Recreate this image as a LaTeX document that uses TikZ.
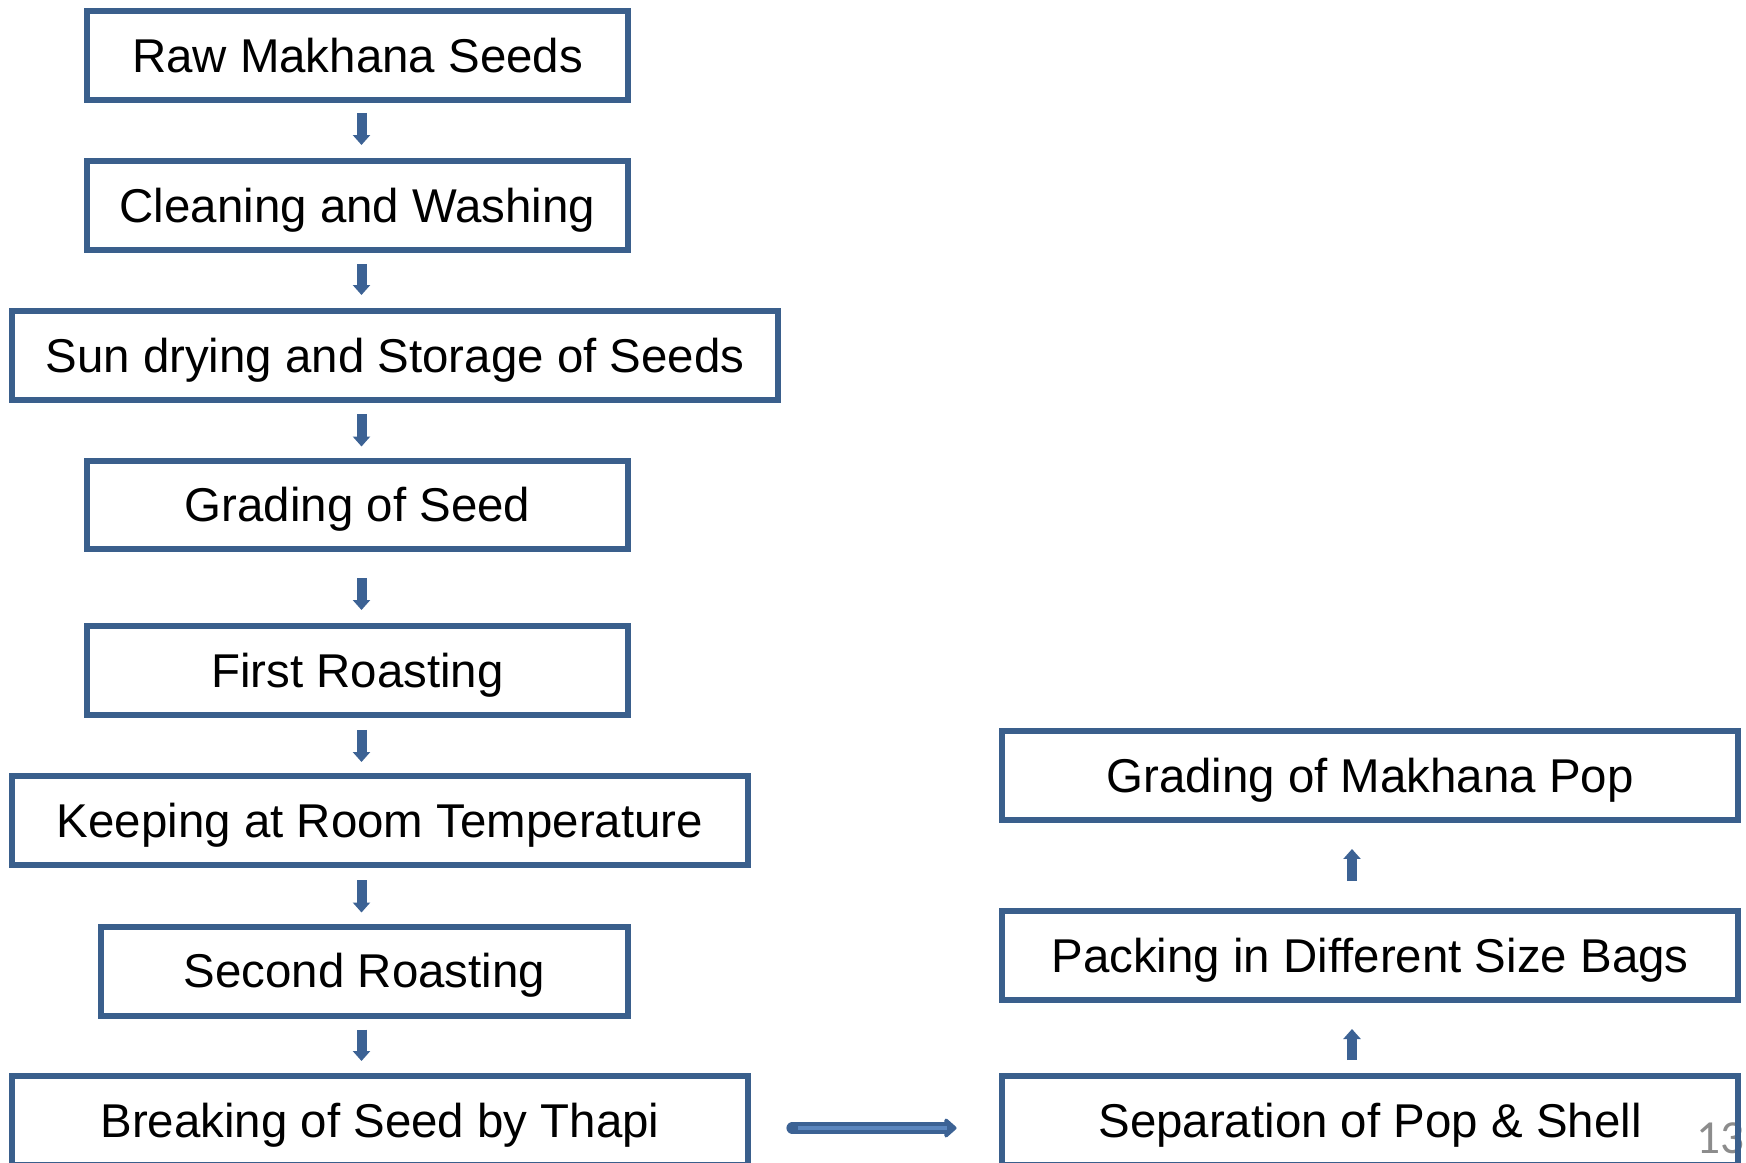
\documentclass[tikz,border=0pt]{standalone}
\usepackage{fontspec}
\setmainfont{Liberation Sans}
\newfontfamily\pagenumfont{Carlito}
\usetikzlibrary{arrows.meta,calc}
\definecolor{boxline}{HTML}{3A5F8C}
\definecolor{arrowdark}{HTML}{3C6294}
\definecolor{arrowlight}{HTML}{5B86BE}
\definecolor{pagegrey}{HTML}{8C8C8C}

\begin{document}
\begin{tikzpicture}[x=0.02cm,y=-0.02cm,
        stepbox/.style={draw=boxline,line width=0.12cm,minimum height=1.78cm,
            inner sep=0pt,text height=19.3pt,text depth=0pt,
            font=\fontsize{27}{32}\selectfont},
        downarr/.style={arrowdark,line width=0.2cm,
            -{Triangle[width=0.34cm,length=0.2cm]}},
        sidearr/.style={arrowdark,line width=0.24cm,line cap=round,
            -{Triangle[width=0.44cm,length=0.26cm,round]}}]
    \path[use as bounding box,clip] (0,0) rectangle (1746,1162);
    %% page number
    \node[anchor=base east,text=pagegrey,inner sep=0pt,
        font=\pagenumfont\fontsize{27}{32}\selectfont] (pgnum) at (1745,1153) {13};
    %% left column
    \node[stepbox,minimum width=10.82cm] (raw) at (357.5,55.5) {Raw Makhana Seeds};
    \node[stepbox,minimum width=10.82cm] (clean) at (357.5,205.5) {Cleaning and Washing};
    \node[stepbox,minimum width=15.34cm] (sun) at (395,355.5) {Sun drying and Storage of Seeds};
    \node[stepbox,minimum width=10.82cm] (gradeseed) at (357.5,505) {Grading of Seed};
    \node[stepbox,minimum width=10.82cm] (first) at (357.5,670.5) {First Roasting};
    \node[stepbox,minimum width=14.74cm] (keep) at (380,820.5) {Keeping at Room Temperature};
    \node[stepbox,minimum width=10.54cm] (second) at (364.5,971) {Second Roasting};
    \node[stepbox,minimum width=14.74cm] (break) at (380,1120.5) {Breaking of Seed by Thapi};
    %% right column
    \node[stepbox,minimum width=14.74cm] (sep) at (1370,1120.5) {Separation of Pop \& Shell};
    \node[stepbox,minimum width=14.74cm] (pack) at (1370,955.5) {Packing in Different Size Bags};
    \node[stepbox,minimum width=14.74cm] (gradepop) at (1370,775.5) {Grading of Makhana Pop};
    \coordinate (leftcol) at (361.5,0);
    \coordinate (rightcol) at (1352,0);
    %% arrows down
    \foreach \a/\b/\top/\bot in {raw/clean/10/13,clean/sun/11/13,sun/gradeseed/11/11,
            gradeseed/first/26/13,first/keep/12/11,keep/second/12/11,second/break/11/12}
        \draw[downarr] ($(\a.south -| leftcol)+(0,\top)$) -- ($(\b.north -| leftcol)+(0,-\bot)$);
    %% across
    \draw[sidearr] ($(break.east)+(41,7.5)$) -- ($(sep.west)+(-42,7.5)$);
    \draw[arrowlight,line width=0.07cm] ($(break.east)+(47,7.5)$) -- ($(sep.west)+(-52,7.5)$);
    %% arrows up
    \draw[downarr] ($(sep.north -| rightcol)+(0,-13)$) -- ($(pack.south -| rightcol)+(0,26)$);
    \draw[downarr] ($(pack.north -| rightcol)+(0,-27)$) -- ($(gradepop.south -| rightcol)+(0,26)$);
\end{tikzpicture}
\end{document}
